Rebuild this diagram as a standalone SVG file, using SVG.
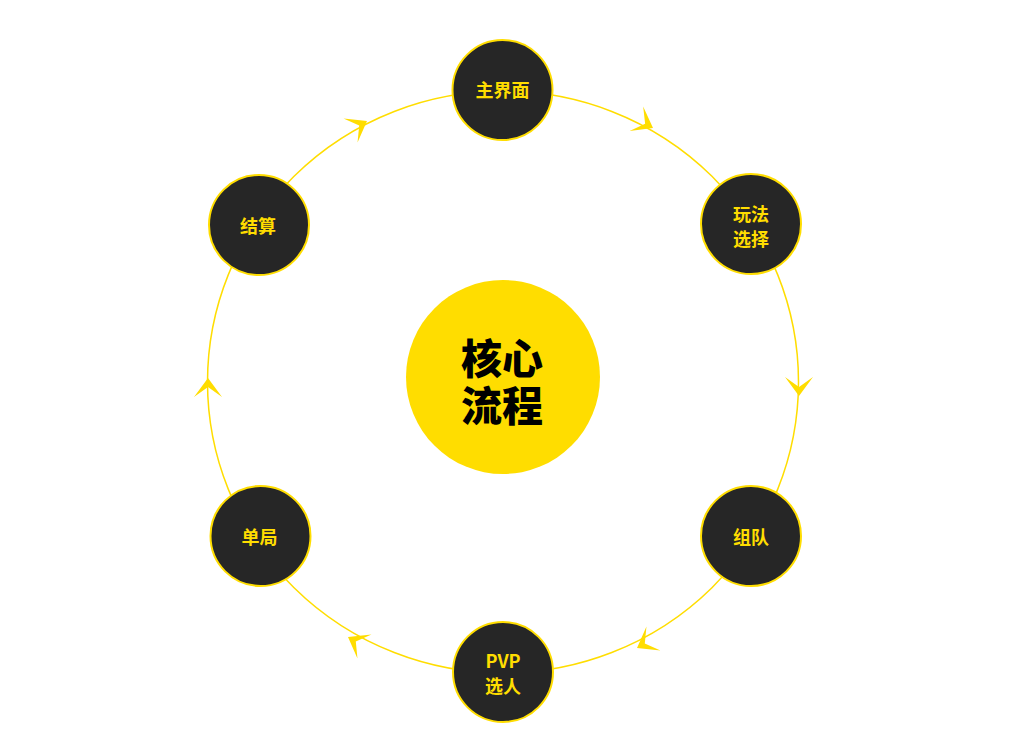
<svg xmlns="http://www.w3.org/2000/svg" width="1024" height="749" viewBox="0 0 1024 749">
<style>
.ring{fill:none;stroke:#FFDD00;stroke-width:1.5}
.arrow{fill:#FFDD00}
.node circle{fill:#262626;stroke:#FFDD00;stroke-width:2}
.node text{fill:#FFDD00;font-family:"Noto Sans CJK SC","Noto Sans",sans-serif;font-weight:bold;font-size:18px;text-anchor:middle;dominant-baseline:central}
.core text{fill:#000;font-family:"Noto Sans CJK SC",sans-serif;font-weight:900;font-size:41px;text-anchor:middle;dominant-baseline:central}
</style>
<defs>
<path id="ah" d="M0,0 L-19,-14 L-9,0 L-19,14 Z"/>
</defs>
<rect width="1024" height="749" fill="#fff"/>
<g id="connectors">
<ellipse class="ring" cx="503" cy="382" rx="295.5" ry="291"/>
<use href="#ah" class="arrow" transform="translate(653,128) rotate(29)"/>
<use href="#ah" class="arrow" transform="translate(799,396) rotate(90)"/>
<use href="#ah" class="arrow" transform="translate(637,648) rotate(150)"/>
<use href="#ah" class="arrow" transform="translate(348,637) rotate(210)"/>
<use href="#ah" class="arrow" transform="translate(208,378) rotate(270)"/>
<use href="#ah" class="arrow" transform="translate(367,121) rotate(-30)"/>
</g>
<g id="core" class="core">
<circle cx="503" cy="377" r="97" fill="#FFDD00"/>
<text x="502" y="356">核心</text>
<text x="502" y="403">流程</text>
</g>
<g id="node-main" class="node">
<circle cx="502.5" cy="90" r="50"/>
<text x="502.5" y="89">主界面</text>
</g>
<g id="node-mode" class="node">
<circle cx="751" cy="224" r="50"/>
<text x="751" y="213">玩法</text>
<text x="751" y="238">选择</text>
</g>
<g id="node-team" class="node">
<circle cx="751" cy="536" r="50"/>
<text x="751" y="536">组队</text>
</g>
<g id="node-pvp" class="node">
<circle cx="503" cy="672" r="50"/>
<text x="503" y="660">PVP</text>
<text x="503" y="685">选人</text>
</g>
<g id="node-match" class="node">
<circle cx="260.5" cy="536" r="50"/>
<text x="259.5" y="536">单局</text>
</g>
<g id="node-settle" class="node">
<circle cx="259" cy="225" r="50"/>
<text x="258" y="225">结算</text>
</g>
</svg>
